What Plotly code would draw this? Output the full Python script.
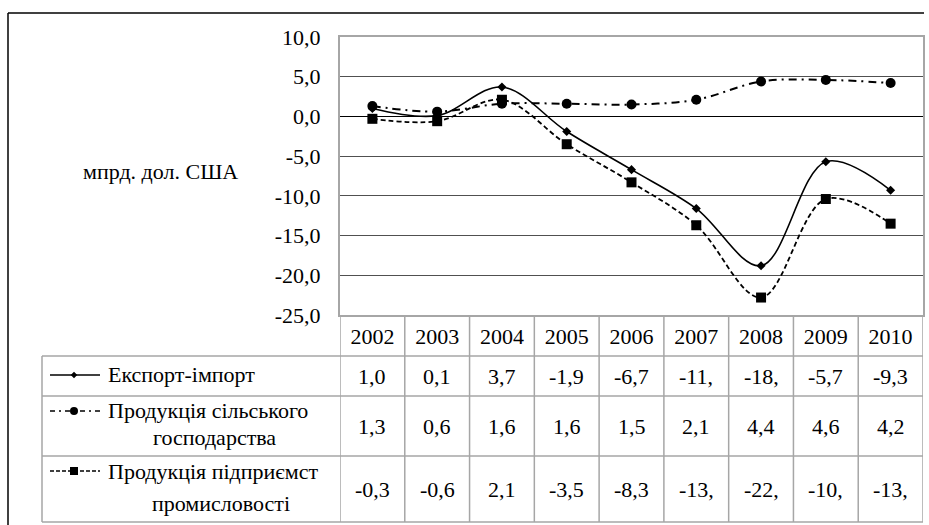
import plotly.graph_objects as go

# ---------------- data ----------------
years = ["2002", "2003", "2004", "2005", "2006", "2007", "2008", "2009", "2010"]
export_import = [1.0, 0.1, 3.7, -1.9, -6.7, -11.6, -18.8, -5.7, -9.3]
agriculture = [1.3, 0.6, 1.6, 1.6, 1.5, 2.1, 4.4, 4.6, 4.2]
industry = [-0.3, -0.6, 2.1, -3.5, -8.3, -13.7, -22.8, -10.4, -13.5]

export_import_text = ["1,0", "0,1", "3,7", "-1,9", "-6,7", "-11,", "-18,", "-5,7", "-9,3"]
agriculture_text = ["1,3", "0,6", "1,6", "1,6", "1,5", "2,1", "4,4", "4,6", "4,2"]
industry_text = ["-0,3", "-0,6", "2,1", "-3,5", "-8,3", "-13,", "-22,", "-10,", "-13,"]

name_export = ["Експорт-імпорт"]
name_agri = ["Продукція сільського", "господарства"]
name_ind = ["Продукція підприємст", "промисловості"]

y_tickvals = [10, 5, 0, -5, -10, -15, -20, -25]
y_ticktext = ["10,0", "5,0", "0,0", "-5,0", "-10,0", "-15,0", "-20,0", "-25,0"]
y_title = "мпрд. дол. США"

# ---------------- geometry / style ----------------
W, H = 929, 525
L, R, T, B = 340, 923, 37, 315          # plot area in pixels
TBL_LEFT = 42
ROW_LINES = [356, 396, 456, 522]
ROW1_C, ROW2_C, ROW3_C = 376, 426, 489
FONT = "Liberation Serif, Times New Roman, serif"
FS = 22
GRAY = "#a6a6a6"


def px(x):
    return x / W


def py(y):
    return (H - y) / H


fig = go.Figure()

# data series
fig.add_trace(go.Scatter(
    x=years, y=export_import, mode="lines+markers",
    line=dict(color="black", width=1.6, shape="spline", smoothing=1),
    marker=dict(symbol="diamond", size=7, color="black"),
    hoverinfo="skip"))
fig.add_trace(go.Scatter(
    x=years, y=agriculture, mode="lines+markers",
    line=dict(color="black", width=2, shape="spline", smoothing=1,
              dash="8px,5px,2px,5px"),
    marker=dict(symbol="circle", size=10, color="black"),
    hoverinfo="skip"))
fig.add_trace(go.Scatter(
    x=years, y=industry, mode="lines+markers",
    line=dict(color="black", width=1.8, shape="spline", smoothing=1,
              dash="5px,3px"),
    marker=dict(symbol="square", size=10, color="black"),
    hoverinfo="skip"))

# legend keys inside the data table (pixel-coordinate overlay axes)
keys = [
    (375, "solid", 1.5, "diamond", 5),
    (411, "5px,4px,2px,4px", 1.5, "circle", 8),
    (471, "4px,2px", 1.5, "square", 8),
]
for yk, dash, lw, sym, ms in keys:
    fig.add_trace(go.Scatter(
        x=[50, 100], y=[yk, yk], mode="lines", xaxis="x2", yaxis="y2",
        line=dict(color="black", width=lw, dash=dash), hoverinfo="skip"))
    fig.add_trace(go.Scatter(
        x=[74], y=[yk], mode="markers", xaxis="x2", yaxis="y2",
        marker=dict(symbol=sym, size=ms, color="black"), hoverinfo="skip"))

shapes = []
# outer frame (top and left edges)
shapes.append(dict(type="line", xref="paper", yref="paper",
                   x0=px(8), x1=px(924), y0=py(13), y1=py(13),
                   line=dict(color="black", width=1.5)))
shapes.append(dict(type="line", xref="paper", yref="paper",
                   x0=px(8), x1=px(8), y0=py(13), y1=py(525),
                   line=dict(color="black", width=1.5)))
# table vertical lines at category boundaries
for i in range(len(years) + 1):
    shapes.append(dict(type="line", xref="x", yref="paper",
                       x0=i - 0.5, x1=i - 0.5, y0=py(B), y1=py(ROW_LINES[-1]),
                       line=dict(color=GRAY, width=1.5)))
# table horizontal lines
for yl in ROW_LINES:
    shapes.append(dict(type="line", xref="paper", yref="paper",
                       x0=px(TBL_LEFT), x1=px(R), y0=py(yl), y1=py(yl),
                       line=dict(color=GRAY, width=1.5)))
shapes.append(dict(type="line", xref="paper", yref="paper",
                   x0=px(TBL_LEFT), x1=px(TBL_LEFT), y0=py(ROW_LINES[0]), y1=py(ROW_LINES[-1]),
                   line=dict(color=GRAY, width=1.5)))

font = dict(family=FONT, size=FS, color="black")
ann = []
ann.append(dict(text=y_title, xref="paper", yref="paper", x=px(160), y=py(172),
                xanchor="center", yanchor="middle", showarrow=False, font=font))
for texts, yc in [(export_import_text, ROW1_C), (agriculture_text, ROW2_C), (industry_text, ROW3_C)]:
    for i, t in enumerate(texts):
        ann.append(dict(text=t, xref="x", yref="paper", x=i, y=py(yc),
                        xanchor="center", yanchor="middle", showarrow=False, font=font))
# series names in the table
ann.append(dict(text=name_export[0], xref="paper", yref="paper", x=px(106), y=py(374),
                xanchor="left", yanchor="middle", showarrow=False, font=font))
ann.append(dict(text=name_agri[0], xref="paper", yref="paper", x=px(106), y=py(410),
                xanchor="left", yanchor="middle", showarrow=False, font=font))
ann.append(dict(text=name_agri[1], xref="paper", yref="paper", x=px(214), y=py(437),
                xanchor="center", yanchor="middle", showarrow=False, font=font))
ann.append(dict(text=name_ind[0], xref="paper", yref="paper", x=px(106), y=py(471),
                xanchor="left", yanchor="middle", showarrow=False, font=font))
ann.append(dict(text=name_ind[1], xref="paper", yref="paper", x=px(221), y=py(503),
                xanchor="center", yanchor="middle", showarrow=False, font=font))

fig.update_layout(
    width=W, height=H,
    margin=dict(l=0, r=0, t=0, b=0),
    paper_bgcolor="white", plot_bgcolor="rgba(0,0,0,0)",
    showlegend=False,
    font=font,
    xaxis=dict(domain=[px(L), px(R)], type="category", range=[-0.5, len(years) - 0.5],
               showgrid=False, zeroline=False, showline=True, mirror=True,
               linecolor=GRAY, linewidth=2, ticks="", ticklabelstandoff=1,
               tickfont=font, automargin=False, fixedrange=True),
    yaxis=dict(domain=[py(B), py(T)], range=[-25, 10],
               tickvals=y_tickvals, ticktext=y_ticktext, tickfont=font,
               showgrid=True, gridcolor="#505050", gridwidth=1,
               zeroline=True, zerolinecolor="black", zerolinewidth=1.2,
               showline=True, mirror=True, linecolor=GRAY, linewidth=2,
               ticks="", ticklabelstandoff=13, automargin=False, fixedrange=True),
    xaxis2=dict(domain=[0, 1], range=[0, W], visible=False, anchor="y2", fixedrange=True),
    yaxis2=dict(domain=[0, 1], range=[H, 0], visible=False, anchor="x2", fixedrange=True),
    shapes=shapes,
    annotations=ann,
)

fig.write_html("out.html", config={"displayModeBar": False},
               post_script="document.body.style.margin='0px';")
